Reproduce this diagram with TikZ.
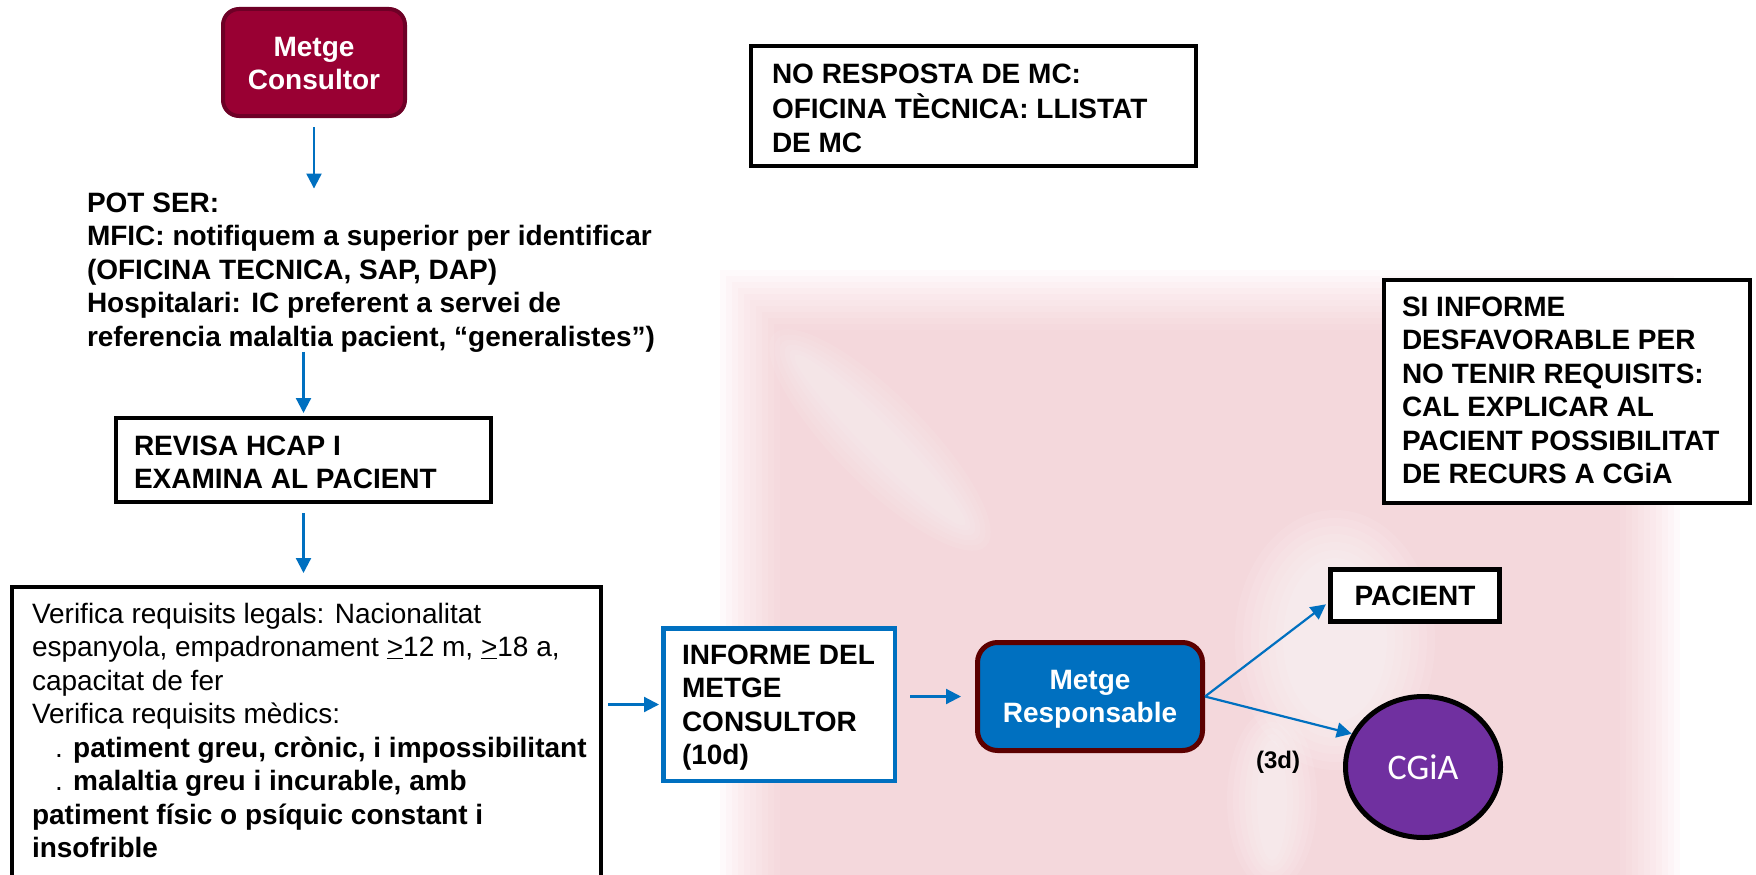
\documentclass[tikz,border=0pt]{standalone}
\usepackage{fontspec}
\setmainfont{Liberation Sans}
\newfontfamily\carlito{Carlito}
\usetikzlibrary{arrows.meta,shapes.geometric}
\definecolor{crim}{HTML}{990033}
\definecolor{crimdark}{HTML}{6E0026}
\definecolor{msblue}{HTML}{0070C0}
\definecolor{mrborder}{HTML}{5C0000}
\definecolor{purp}{HTML}{7030A0}
\definecolor{wm}{HTML}{F2BCC4}
\begin{document}
\begin{tikzpicture}[x=1pt,y=-1pt,
  txt/.style={inner sep=0pt, outer sep=0pt, anchor=north west, align=left, font=\fontsize{28}{33.5}\selectfont},
  btxt/.style={txt, font=\fontsize{28}{33.5}\selectfont\bfseries},
  wtxt/.style={inner sep=0pt, outer sep=0pt, anchor=north, align=center, text=white, font=\fontsize{28}{33.5}\selectfont\bfseries},
  blackbox/.style={draw=black, fill=white, line width=4pt, inner sep=0pt},
  arr/.style={draw=msblue, line width=2.2pt, -{Triangle[length=15pt,width=15pt]}}]
\useasboundingbox (0,0) rectangle (1756,875);
\fill[white] (0,0) rectangle (1756,875);
% faint blurred watermark
\foreach \d in {0,6,...,60} {\fill[wm,opacity=0.065] (720+\d,270+\d) rectangle (1680-\d,920);}
\foreach \d in {0,8,...,48} {\fill[white,opacity=0.1] (1335,640) ellipse [x radius=100-\d, y radius=130-\d];}
\foreach \d in {0,6,...,30} {\fill[white,opacity=0.1] (1272,800) ellipse [x radius=45-\d, y radius=90-\d];}
\foreach \d in {0,6,...,30} {\fill[white,opacity=0.08] (880,440) ellipse [x radius=150-\d, y radius=45-\d, rotate=-45];}

% Metge Consultor
\node[draw=crimdark, fill=crim, line width=4pt, rounded corners=16pt, minimum width=182pt, minimum height=107pt, inner sep=0pt] (mc) at (314,62.5) {};
\node[wtxt] (mcT) at (314,32.55) {\strut Metge\\Consultor};

% POT SER
\node[btxt] (pot) at (87,188.55) {\strut POT SER:\\
MFIC: notifiquem a superior per identificar\\
(OFICINA TECNICA, SAP, DAP)\\
Hospitalari: IC preferent a servei de\\
referencia malaltia pacient, “generalistes”)};

% REVISA
\node[blackbox, minimum width=375pt, minimum height=84pt] (rev) at (303.5,460) {};
\node[btxt] (revT) at (134,431.55) {\strut REVISA HCAP I\\EXAMINA AL PACIENT};

% Verifica
\node[blackbox, minimum width=589pt, minimum height=293pt] (ver) at (306.5,733.5) {};
\node[txt] (verT) at (32,599.55) {\strut Verifica requisits legals: Nacionalitat\\
espanyola, empadronament \underline{>}12 m, \underline{>}18 a,\\
capacitat de fer\\
Verifica requisits mèdics:\\
\hspace*{23pt}. \textbf{patiment greu, crònic, i impossibilitant}\\
\hspace*{23pt}. \textbf{malaltia greu i incurable, amb}\\
\textbf{patiment físic o psíquic constant i}\\
\textbf{insofrible}};

% INFORME
\node[draw=msblue, fill=white, line width=4.5pt, inner sep=0pt, minimum width=231.5pt, minimum height=152.5pt] (inf) at (779,704.5) {};
\node[btxt] (infT) at (682,640.55) {\strut INFORME DEL\\METGE\\CONSULTOR\\(10d)};

% Metge Responsable
\node[draw=mrborder, fill=msblue, line width=5pt, rounded corners=20pt, minimum width=225pt, minimum height=108pt, inner sep=0pt] (mr) at (1090,696.5) {};
\node[wtxt] (mrT) at (1090,665.55) {\strut Metge\\Responsable};

% PACIENT
\node[blackbox, line width=4.5pt, minimum width=169pt, minimum height=52pt, font=\fontsize{28}{33.5}\selectfont\bfseries] (pac) at (1415,595.5) {PACIENT};

% CGiA
\node[ellipse, draw=black, fill=purp, line width=5pt, minimum width=155pt, minimum height=141pt, inner sep=0pt, text=white, font=\carlito\fontsize{36}{40}\selectfont] (cg) at (1423,767) {CGiA};

% (3d)
\node[inner sep=0pt, font=\fontsize{24}{28}\selectfont\bfseries] (d3) at (1278,762) {(3d)};

% NO RESPOSTA
\node[blackbox, minimum width=445pt, minimum height=120pt] (nor) at (973.5,106) {};
\node[btxt] (norT) at (772,59.55) {\strut NO RESPOSTA DE MC:\\OFICINA TÈCNICA: LLISTAT\\DE MC};

% SI INFORME
\node[blackbox, minimum width=366pt, minimum height=223pt] (si) at (1567,391.5) {};
\node[btxt] (siT) at (1402,292.55) {\strut SI INFORME\\DESFAVORABLE PER\\NO TENIR REQUISITS:\\CAL EXPLICAR AL\\PACIENT POSSIBILITAT\\DE RECURS A CGiA};

% arrows
\draw[arr, shorten <=9pt] (mc.south) -- (mc.south |- pot.north);
\draw[arr, shorten >=3pt] (rev.north |- pot.south) -- (rev.north);
\draw[arr, shorten <=9pt, shorten >=12pt] (rev.south) -- (rev.south |- ver.north);
\draw[arr, shorten <=5pt, shorten >=2pt] (ver.east |- inf.west) -- (inf.west);
\draw[arr, shorten <=13pt, shorten >=14pt] (inf.east |- mr.west) -- (mr.west);
\draw[arr, shorten >=3pt] (mr.east) -- ([yshift=-7pt]pac.west);
\draw[arr] (mr.east) -- (cg.155);
\end{tikzpicture}
\end{document}
